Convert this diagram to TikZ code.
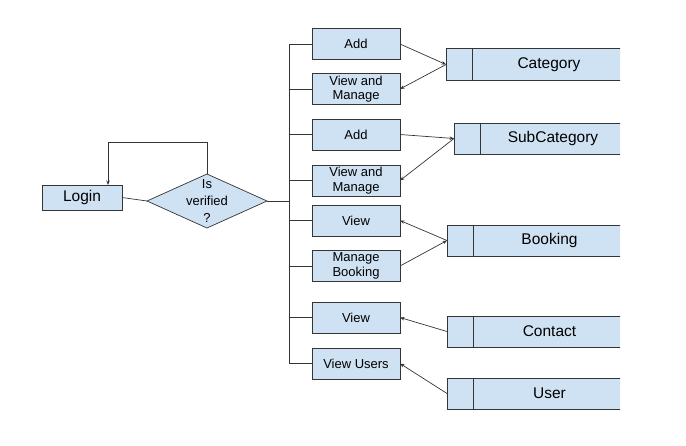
\documentclass[tikz,border=0pt]{standalone}
\usepackage{fontspec}
\setmainfont{Liberation Sans}
\usetikzlibrary{arrows.meta,positioning,shapes.geometric}
\definecolor{boxfill}{HTML}{CFE2F3}
\definecolor{edge}{HTML}{353535}

\begin{document}
\begin{tikzpicture}[x=1pt,y=-1pt,
  box/.style={draw=edge,fill=boxfill,line width=0.7pt,inner sep=0pt,outer sep=0pt,align=center},
  act/.style={box,minimum width=88pt,minimum height=31pt,font=\fontsize{13}{14.5}\selectfont},
  keycell/.style={box,minimum width=26pt,minimum height=32pt,anchor=west},
  ent/.style={box,minimum height=32pt,font=\fontsize{15.5}{17}\selectfont},
  link/.style={draw=edge,line width=0.7pt},
  arr/.style={link,-{Stealth[length=4.5pt,width=3.5pt]}}]
  \useasboundingbox (0,0) rectangle (686,445);

  % login and check
  \node[box,minimum width=80pt,minimum height=25pt,font=\fontsize{15.5}{17}\selectfont] (login) at (82,197.5) {Login};
  \node[box,diamond,minimum width=120pt,minimum height=54pt,
        label={[align=center,font=\fontsize{13}{17}\selectfont]center:Is\\verified\\?}] (dec) at (207,201) {};
  \coordinate (back) at (108,142);
  \coordinate (bus) at (289,0);
  \draw[link] (login.east) -- (dec.west);
  \draw[arr] (dec.north) |- (back) -- (back |- login.north);

  % actions
  \node[act] (add1)   at (356,44)    {Add};
  \node[act] (vm1)    at (356,89)    {View and\\Manage};
  \node[act] (add2)   at (356,134.5) {Add};
  \node[act] (vm2)    at (356,180.5) {View and\\Manage};
  \node[act] (view1)  at (356,220.5) {View};
  \node[act] (mbook)  at (356,266)   {Manage\\Booking};
  \node[act] (view2)  at (356,317.5) {View};
  \node[act] (vusers) at (356,363.5) {View Users};

  \draw[link] (dec.east) -- (dec.east -| bus);
  \draw[link] (add1.west -| bus) -- (vusers.west -| bus);
  \foreach \n in {add1,vm1,add2,vm2,view1,mbook,view2,vusers}
    \draw[link] (\n.west) -- (\n.west -| bus);

  % entities, cut at the right edge
  \begin{scope}
    \clip (0,0) rectangle (620,445);
    \node[keycell] (catk) at (446,64.5) {};
    \node[ent,minimum width=154pt,right=0pt of catk] (cat) {Category};
    \node[keycell,minimum height=31pt] (subk) at (454,138.5) {};
    \node[ent,minimum width=146pt,minimum height=31pt,right=0pt of subk] (sub) {SubCategory};
    \node[keycell,minimum height=31pt] (bookk) at (447,240.5) {};
    \node[ent,minimum width=153pt,minimum height=31pt,right=0pt of bookk] (book) {Booking};
    \node[keycell,minimum height=31pt] (conk) at (447,331.5) {};
    \node[ent,minimum width=153pt,minimum height=31pt,right=0pt of conk] (con) {Contact};
    \node[keycell,minimum height=31pt] (userk) at (447,393.5) {};
    \node[ent,minimum width=153pt,minimum height=31pt,right=0pt of userk] (user) {User};
  \end{scope}

  \draw[arr] (add1.east) -- (catk.west);
  \draw[arr] (catk.west) -- (vm1.east);
  \draw[arr] (add2.east) -- (subk.west);
  \draw[arr] (subk.west) -- (vm2.east);
  \draw[arr] (bookk.west) -- (view1.east);
  \draw[arr] (mbook.east) -- (bookk.west);
  \draw[arr] (conk.west) -- (view2.east);
  \draw[arr] (userk.west) -- (vusers.east);
\end{tikzpicture}
\end{document}
